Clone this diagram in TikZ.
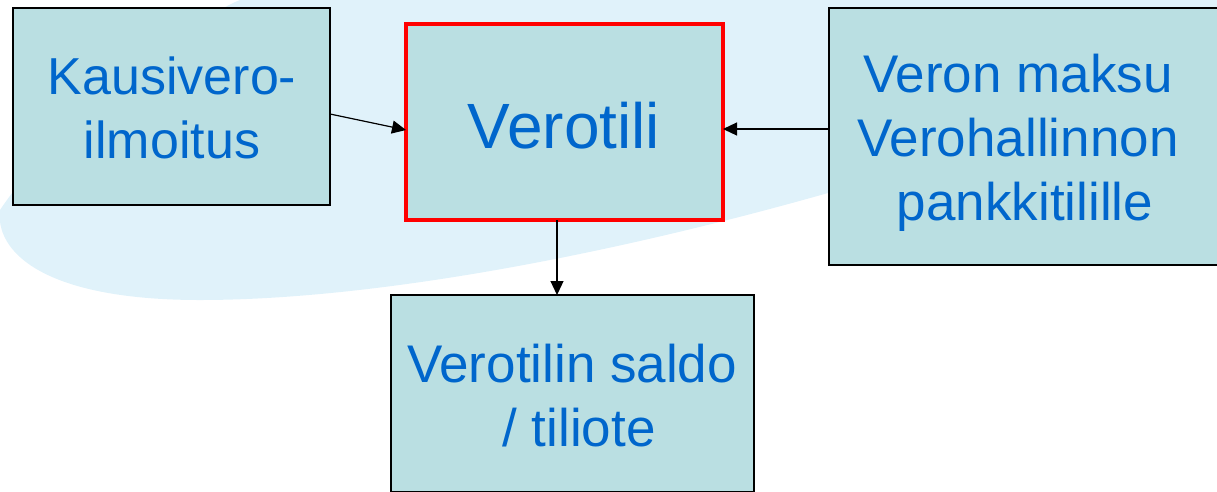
\documentclass[tikz,border=0pt]{standalone}
\usepackage{fontspec}
\setmainfont{Liberation Sans}
\usetikzlibrary{arrows.meta}
\definecolor{boxfill}{HTML}{BADFE2}
\definecolor{swoosh}{HTML}{E0F2FA}
\definecolor{txt}{HTML}{0066CC}
\tikzset{
  bx/.style={draw=black,line width=1.2pt,fill=boxfill},
  lbl/.style={text=txt,font=\fontsize{53}{64}\selectfont,align=center,anchor=center,inner sep=0pt},
  conn/.style={draw=black,line width=1.2pt,-{Triangle[length=14pt,width=13pt]}}
}
\begin{document}
\begin{tikzpicture}[x=1pt,y=-1pt]
\useasboundingbox (0,0) rectangle (1217,491);
\fill[swoosh] (240,0) .. controls (200,15) and (60,120) .. (0,210) .. controls (-5,250) and (40,300) .. (200,300) .. controls (400,300) and (700,240) .. (1000,140) -- (1217,60) -- (1217,0) -- cycle;
\draw[bx] (13,8) rectangle (330,205);
\draw[bx] (829,8) rectangle (1217.5,265);
\draw[bx] (391,295) rectangle (754,491.5);
\draw[bx,draw=red,line width=4.5pt] (406,24) rectangle (723,220);
\coordinate (ka) at (330,114);
\coordinate (ve) at (406,130);
\coordinate (vr) at (723,129);
\coordinate (vm) at (829,129);
\coordinate (vb) at (557,220);
\coordinate (st) at (557,295);
\draw[conn] (ka) -- (ve);
\draw[conn] (vm) -- (vr);
\draw[conn] (vb) -- (st);
\node[lbl,font=\fontsize{52}{64}\selectfont] (a) at (172,108) {Kausivero-\\ilmoitus};
\node[lbl,font=\fontsize{64}{64}\selectfont] (b) at (564,126) {Verotili};
\node[lbl] (c) at (1018,143) {Veron maksu\\Verohallinnon\\\hspace{14pt}pankkitilille};
\node[lbl] (d) at (572,396) {Verotilin saldo\\\hspace{14pt}/ tiliote};
\end{tikzpicture}
\end{document}
